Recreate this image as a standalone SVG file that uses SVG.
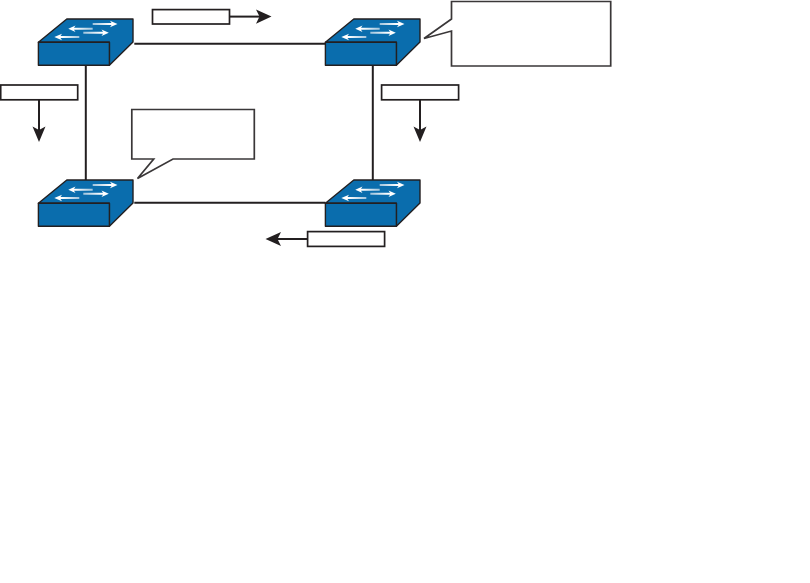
<svg xmlns="http://www.w3.org/2000/svg" width="810" height="583" viewBox="0 0 810 583">
<style>
.bg{fill:#fff}
.link{fill:none;stroke:#231f20;stroke-width:2}
.lead{fill:none;stroke:#231f20;stroke-width:2}
.head{fill:#231f20;stroke:none}
.box{fill:#fff;stroke:#231f20;stroke-width:1.7}
.call{fill:#fff;stroke:#3a3738;stroke-width:1.7}
.sw{fill:#0a6dad;stroke:#231f20;stroke-width:1.4;stroke-linejoin:round}
</style>
<defs>
<linearGradient id="fr" x1="0" x2="1" y1="0" y2="0"><stop offset="0" stop-color="#9fc3dc"/><stop offset="0.7" stop-color="#fff"/></linearGradient>
<linearGradient id="fl" x1="0" x2="1" y1="0" y2="0"><stop offset="0.3" stop-color="#fff"/><stop offset="1" stop-color="#9fc3dc"/></linearGradient>
<g id="switch">
<path class="sw" d="M38.4 42.3L66.8 19H133V42L109.4 65.3V42.3Z"/>
<rect class="sw" x="38.4" y="42.3" width="71" height="23"/>
<path fill="url(#fr)" d="M92.7 23H111.5L110 20.8L117.5 24L110 27.2L111.5 25H92.7Z"/>
<path fill="url(#fl)" d="M92.7 27.7H74L75.5 25.5L68.3 28.7L75.5 31.9L74 29.7H92.7Z"/>
<path fill="url(#fr)" d="M83.3 31.7H103L101.5 29.5L108.8 32.7L101.5 35.9L103 33.7H83.3Z"/>
<path fill="url(#fl)" d="M79.3 36H60.5L62 33.8L54.3 37L62 40.2L60.5 38H79.3Z"/>
</g>
</defs>
<rect class="bg" width="810" height="583"/>
<g id="connectors">
<path class="link" d="M134.3 43.8H325.5"/>
<path class="link" d="M134.3 202.8H325.5"/>
<path class="link" d="M85.8 65.5V180"/>
<path class="link" d="M372.8 65.5V180"/>
</g>
<g id="switch-top-left"><use href="#switch"/></g>
<g id="switch-top-right"><use href="#switch" x="287"/></g>
<g id="switch-bottom-left"><use href="#switch" y="161"/></g>
<g id="switch-bottom-right"><use href="#switch" x="287" y="161"/></g>
<g id="callout-top-right">
<path class="call" d="M451.5 1.5H610.7V66H451.5V31L424 38.5L451.5 19Z"/>
</g>
<g id="callout-center">
<path class="call" d="M131.8 109.5H254.3V159H173L137.5 178.5L153.7 159H131.8Z"/>
</g>
<g id="label-top">
<rect class="box" x="152.5" y="9.6" width="77" height="14.4"/>
<path class="lead" d="M229.5 16.6H260"/>
<path class="head" d="M271.5 16.6L256 9.5L259.5 16.6L256 23.7Z"/>
</g>
<g id="label-left">
<rect class="box" x="0.7" y="85" width="77" height="14.8"/>
<path class="lead" d="M39 99.8V131"/>
<path class="head" d="M39 142L32.5 126.5L39 130L45.5 126.5Z"/>
</g>
<g id="label-right">
<rect class="box" x="381.6" y="85" width="77" height="14.8"/>
<path class="lead" d="M420 99.8V131"/>
<path class="head" d="M420 142L413.5 126.5L420 130L426.5 126.5Z"/>
</g>
<g id="label-bottom">
<rect class="box" x="307.6" y="231.6" width="77" height="14.8"/>
<path class="lead" d="M307.6 239H277"/>
<path class="head" d="M265.5 239L281 232L277.5 239L281 246Z"/>
</g>
</svg>
